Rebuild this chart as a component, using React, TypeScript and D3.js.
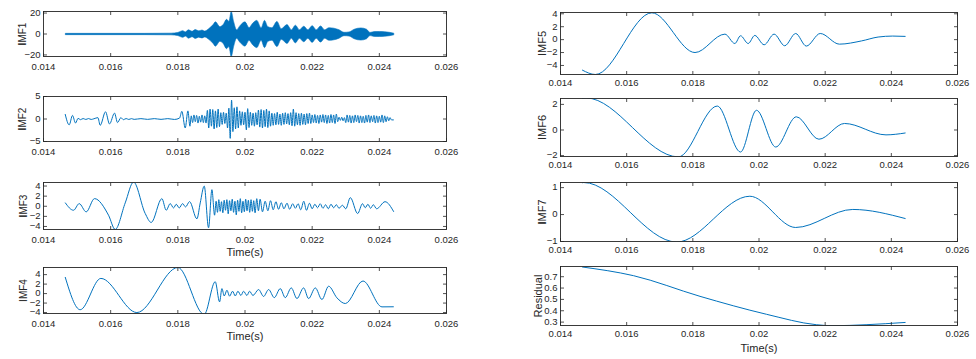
import React from "react";
import * as d3 from "d3";

type Pt = [number, number];

const timeTicks = [0.014, 0.016, 0.018, 0.02, 0.022, 0.024, 0.026];
const timeTickLabels = ["0.014", "0.016", "0.018", "0.02", "0.022", "0.024", "0.026"];

const imf1Ticks = [-20, 0, 20];
const imf2Ticks = [-5, 0, 5];
const imf3Ticks = [-4, -2, 0, 2, 4];
const imf4Ticks = [-4, -2, 0, 2, 4];
const imf5Ticks = [-4, -2, 0, 2, 4];
const imf6Ticks = [-2, 0, 2];
const imf7Ticks = [-1, 0, 1];
const residualTicks = [0.3, 0.4, 0.5, 0.6, 0.7];

// IMF1 oscillates faster than a pixel, so only its envelope (time, amplitude) is read
const imf1Envelope: Pt[] = [
  [0.01465, 0.6], [0.0170, 0.6], [0.0178, 0.8], [0.0180, 1.5], [0.01815, 3.2],
  [0.01822, 2.0], [0.01832, 4.0], [0.01842, 2.6], [0.01852, 4.2], [0.01862, 3.0],
  [0.01872, 3.8], [0.0188, 2.8], [0.0189, 4.5], [0.01905, 9], [0.01912, 11.6], [0.01925, 7],
  [0.01935, 9], [0.01945, 14], [0.01952, 12], [0.01959, 21.5], [0.01966, 12],
  [0.01975, 4], [0.01985, 8], [0.0200, 11.6], [0.02012, 6], [0.02022, 10],
  [0.02035, 13], [0.02048, 6], [0.02058, 13], [0.02068, 7], [0.0208, 6],
  [0.02095, 12], [0.02108, 5], [0.02125, 9], [0.02138, 4], [0.0215, 8.4],
  [0.02162, 4], [0.02175, 7.4], [0.02187, 4], [0.022, 8], [0.02212, 4],
  [0.02225, 7.7], [0.02237, 4], [0.0225, 6], [0.02265, 5.5], [0.0228, 4],
  [0.02295, 1.6], [0.0231, 2], [0.02325, 4.5], [0.02345, 5.8], [0.02362, 4.5],
  [0.02372, 1.5], [0.02385, 2.3], [0.024, 2.4], [0.02415, 2.2], [0.0243, 1.6],
  [0.02443, 0.8],
];

const imf2Head: Pt[] = [
  [0.014645, 1.1], [0.014765, -1.3], [0.014864, 0.8], [0.014953, -0.9], [0.01503, 0.15],
  [0.0151, -0.15], [0.01518, 0.1], [0.01526, -0.1], [0.01534, 0.1], [0.01542, -0.1],
  [0.0155, 0.05], [0.01562, 0.3], [0.015688, -1.4], [0.015847, 1.6], [0.015966, -1.1],
  [0.016115, 1.3], [0.016205, -0.8], [0.016304, 0.3], [0.01638, -0.15], [0.01646, 0.1],
  [0.01654, -0.1], [0.01662, 0.08], [0.0167, -0.08], [0.0169, 0.08], [0.0171, -0.08],
  [0.0173, 0.08], [0.0175, -0.08], [0.0177, 0.08], [0.0179, -0.1], [0.01805, 0.2],
  [0.01812, 1.7], [0.01822, -2.0], [0.0183, 1.8], [0.01836, -1.6],
];
// dense part of IMF2, one extremum every 40 µs from 18.4 ms
const imf2BurstStart = 0.0184;
const imf2BurstStep = 0.00004;
const imf2Burst = [
  0.7, -0.8, 0.9, -0.6, 0.8, -0.9, 0.6, -0.7, 0.9, -0.8, 0.7, -0.9,
  1.9, -2.0, 2.2, -1.6, 2.1, -2.2, 1.8, -1.9, 2.2, -1.7,
  1.4, -1.2, 1.5, -1.0, 1.3,
  -2.0, 2.4, -4.3, 4.2,
  -2.8, 2.5, -2.2, 2.7, -2.0, 1.8,
  -1.4, 1.6, -1.3, 1.5,
  -2.4, 2.3, -1.9,
  1.5, -1.4, 1.3, -1.6, 1.4, -1.3,
  2.0, -1.8, 2.1, -2.0, 1.9, -1.7, 2.2, -1.9, 1.8, -1.6,
  1.3, -1.4, 1.2, -1.3, 1.5, -1.2, 1.1, -1.4, 1.3, -1.2, 1.4, -1.1, 1.2, -1.3, 1.4, -1.5,
  2.2,
  -1.6, 1.4, -1.3, 1.2, -1.4, 1.3, -1.2, 1.1, -1.3, 1.2, -1.0, 1.3,
  -1.0, 0.9, -0.8, 1.0, -0.9, 0.8, -1.0, 0.9, -0.7, 1.0, -0.8, 0.9, -1.0, 0.8, -0.9, 1.0, -0.8, 0.9,
  -1.0, 1.1, -0.6,
  0.4, -0.3, 0.4, -0.4, 0.3,
  -0.8, 0.9, -0.7, 0.8, -0.9, 0.7, -0.8, 0.9, -0.6, 0.8,
  -0.9, 0.7, -0.8, 0.6, -0.9, 0.8, -0.7, 0.9, -0.8, 0.7,
  -0.6, 0.8, -0.9, 0.7, -0.8, 0.6, -0.7, 0.9, -0.8, 0.7,
  -0.6, 0.5, -0.4, 0.3, -0.2,
];
const imf2Tail: Pt[] = [[0.02443, -0.2]];

const imf3: Pt[] = [
  [0.014645, 0.72], [0.014894, -0.79], [0.015063, 0.52], [0.015271, -1.11], [0.015519, 1.51],
  [0.015936, -1.77], [0.016135, -4.59], [0.016433, 0.66], [0.016681, 4.79], [0.017029, -1.44],
  [0.017207, -3.21], [0.017525, 1.51], [0.017654, -0.79], [0.017773, 0.52], [0.017873, -0.33],
  [0.017952, 0.39], [0.018042, -0.33], [0.018141, 0.52], [0.01823, -0.13], [0.018349, 0.92],
  [0.018568, -2.49], [0.018667, 0.66], [0.018786, 4.0], [0.018915, -4.26], [0.019015, 3.28],
  [0.019094, -1.77],
  [0.01914, 1.0], [0.01918, -1.2], [0.01922, 1.3], [0.01926, -1.0], [0.0193, 0.9],
  [0.01934, -1.3], [0.01938, 1.2], [0.01942, -0.8], [0.01946, 1.3], [0.0195, -1.5],
  [0.01954, 1.1], [0.01958, -0.9], [0.01962, 1.4], [0.01966, -1.2], [0.0197, 1.0],
  [0.01974, -1.7], [0.01978, 1.2], [0.01982, -1.0], [0.01986, 1.5], [0.0199, -1.3],
  [0.01994, 1.0], [0.01998, -1.1], [0.02002, 1.4], [0.02006, -0.9], [0.0201, 1.2],
  [0.02014, -1.2], [0.02018, 1.3], [0.02022, -1.0], [0.02026, 1.1], [0.0203, -1.3],
  [0.02035, 1.5], [0.0204, -0.9], [0.02045, 1.4],
  [0.02052, -1.1], [0.0206, 1.0], [0.02068, -0.9], [0.02076, 1.1], [0.02084, -0.7],
  [0.02092, 0.9], [0.021, -0.6], [0.02108, 0.7], [0.02116, -0.5], [0.02125, 0.6],
  [0.02133, -0.6], [0.02142, 0.5], [0.0215, -0.4], [0.02158, 0.5], [0.02166, -0.7],
  [0.02175, 1.0], [0.02183, -0.8], [0.02192, 0.6], [0.022, -0.5],
  [0.02208, 0.4], [0.02216, -0.3], [0.02224, 0.5], [0.02232, -0.4], [0.0224, 0.3],
  [0.02248, -0.5], [0.02256, 0.4], [0.02264, -0.3], [0.02272, 0.3], [0.0228, -0.4],
  [0.0229, 0.2], [0.023, -0.5], [0.023136, 1.7], [0.023354, -1.44],
  [0.0235, 0.5], [0.02358, -0.3], [0.02366, 0.4], [0.02374, -0.4], [0.02382, 0.3],
  [0.02392, -0.5], [0.02417, 0.9], [0.02443, -1.1],
];

const imf4: Pt[] = [
  [0.014645, 3.5], [0.015092, -3.4], [0.015708, 3.2], [0.01678, -4.0], [0.018002, 5.5],
  [0.018786, -4.4], [0.019114, 2.5], [0.019243, -1.75], [0.019313, 1.05], [0.019382, -0.5],
  [0.019462, 0.7], [0.019541, -0.55], [0.01963, 0.5], [0.01971, -0.5], [0.019789, 0.5],
  [0.019879, -0.4], [0.019958, 0.5], [0.020057, -0.4], [0.020137, 0.5], [0.020236, -0.4],
  [0.020405, 0.85], [0.020554, -0.6], [0.020703, 0.85], [0.020872, -0.85], [0.02105, 1.05],
  [0.021199, -0.85], [0.021378, 1.2], [0.021547, -1.05], [0.021745, 1.2], [0.021894, -1.05],
  [0.022093, 1.2], [0.022291, -1.25], [0.02249, 1.55], [0.022738, -0.9], [0.022987, -2.1],
  [0.023513, 2.65], [0.024079, -2.8], [0.02443, -2.78],
];

const imf5: Pt[] = [
  [0.014653, -4.7], [0.015054, -5.4], [0.016761, 4.15], [0.018066, -2.0], [0.01897, 0.85],
  [0.019271, -0.6], [0.019442, 0.6], [0.019673, -0.6], [0.019873, 0.65], [0.020155, -0.8],
  [0.020456, 0.85], [0.020777, -0.95], [0.021108, 0.95], [0.02143, -1.0], [0.021851, 0.95],
  [0.02243, -0.7], [0.0231, -0.2], [0.0236, 0.4], [0.02404, 0.55], [0.02443, 0.5],
];

const imf6: Pt[] = [
  [0.014653, 2.47], [0.01478, 2.5], [0.017564, -2.1], [0.018739, 1.87], [0.019442, -1.72],
  [0.019924, 1.54], [0.020506, -1.33], [0.021128, 1.03], [0.021811, -0.72], [0.022584, 0.51],
  [0.023839, -0.38], [0.02443, -0.23],
];

const imf7: Pt[] = [
  [0.014653, 1.18], [0.0147, 1.19], [0.017514, -1.02], [0.019723, 0.68], [0.021108, -0.48],
  [0.022835, 0.19], [0.02443, -0.15],
];

const residual: Pt[] = [
  [0.014653, 0.786], [0.016209, 0.709], [0.018217, 0.527], [0.020225, 0.369], [0.021731, 0.277],
  [0.022233, 0.268], [0.023237, 0.277], [0.02443, 0.297],
];

const imf2: Pt[] = [
  ...imf2Head,
  ...imf2Burst.map((v, i): Pt => [imf2BurstStart + i * imf2BurstStep, v]),
  ...imf2Tail,
];

const series: Record<string, Pt[]> = { imf2, imf3, imf4, imf5, imf6, imf7, residual };

const layout = [
  { key: "imf1", label: "IMF1", heavyI: true, col: 0, top: 11.5, bottom: 56.5, ylim: [-21.5, 21.5], ticks: imf1Ticks, labelX: 26, time: false },
  { key: "imf2", label: "IMF2", heavyI: true, col: 0, top: 96.5, bottom: 141.5, ylim: [-5, 5], ticks: imf2Ticks, labelX: 26, time: false },
  { key: "imf3", label: "IMF3", heavyI: true, col: 0, top: 182.5, bottom: 229.5, ylim: [-4.6, 4.7], ticks: imf3Ticks, labelX: 27, time: true },
  { key: "imf4", label: "IMF4", heavyI: false, col: 0, top: 267.5, bottom: 313.5, ylim: [-4.2, 5.5], ticks: imf4Ticks, labelX: 27, time: true },
  { key: "imf5", label: "IMF5", heavyI: false, col: 1, top: 12.5, bottom: 74.5, ylim: [-5.4, 4.2], ticks: imf5Ticks, labelX: 546, time: false },
  { key: "imf6", label: "IMF6", heavyI: false, col: 1, top: 98.5, bottom: 156.5, ylim: [-2.07, 2.46], ticks: imf6Ticks, labelX: 546, time: false },
  { key: "imf7", label: "IMF7", heavyI: true, col: 1, top: 182.5, bottom: 241.5, ylim: [-1.0, 1.19], ticks: imf7Ticks, labelX: 546, time: false },
  { key: "residual", label: "Residual", heavyI: false, col: 1, top: 266.5, bottom: 325.5, ylim: [0.27, 0.79], ticks: residualTicks, labelX: 542, time: true },
];

const ink = "#262626";
const blue = "#0072BD";
const fmt = (v: number) => (v < 0 ? "\u2212" + String(-v) : String(v));

function Panel({ p }: { p: (typeof layout)[number] }) {
  const xr = p.col === 0 ? [43.5, 446.5] : [560.5, 957.5];
  const x = d3.scaleLinear().domain([0.014, 0.026]).range(xr);
  const y = d3.scaleLinear().domain(p.ylim).range([p.bottom, p.top]);
  const clipId = `clip-${p.key}`;
  const tl = 3.5;

  let d: string | null;
  if (p.key === "imf1") {
    d = d3
      .area<Pt>()
      .x((e) => x(e[0]))
      .y0((e) => y(-e[1]))
      .y1((e) => y(e[1]))
      .curve(d3.curveMonotoneX)(imf1Envelope);
  } else {
    d = d3
      .line<Pt>()
      .x((e) => x(e[0]))
      .y((e) => y(e[1]))
      .curve(d3.curveMonotoneX)(series[p.key]);
  }

  const labelDy = p.col === 0 ? 13.5 : 11.5;
  const midY = (p.top + p.bottom) / 2;

  return (
    <g>
      <defs>
        <clipPath id={clipId}>
          <rect x={xr[0]} y={p.top} width={xr[1] - xr[0]} height={p.bottom - p.top} />
        </clipPath>
      </defs>
      <g clipPath={`url(#${clipId})`}>
        {p.key === "imf1" ? (
          <path d={d ?? ""} fill={blue} stroke={blue} strokeWidth={0.6} />
        ) : (
          <path d={d ?? ""} fill="none" stroke={blue} strokeWidth={1} strokeLinejoin="round" />
        )}
      </g>
      {/* ticks, inward on all four sides */}
      {timeTicks.map((t) => (
        <g key={t}>
          <line x1={x(t)} x2={x(t)} y1={p.bottom} y2={p.bottom - tl} stroke={ink} strokeWidth={0.8} />
          <line x1={x(t)} x2={x(t)} y1={p.top} y2={p.top + tl} stroke={ink} strokeWidth={0.8} />
        </g>
      ))}
      {p.ticks.map((v) => (
        <g key={v}>
          <line x1={xr[0]} x2={xr[0] + tl} y1={y(v)} y2={y(v)} stroke={ink} strokeWidth={0.8} />
          <line x1={xr[1]} x2={xr[1] - tl} y1={y(v)} y2={y(v)} stroke={ink} strokeWidth={0.8} />
          <text x={xr[0] - 3} y={y(v)} dy="0.3em" textAnchor="end" fontSize={9.5} fill={ink}>
            {fmt(v)}
          </text>
        </g>
      ))}
      <rect x={xr[0]} y={p.top} width={xr[1] - xr[0]} height={p.bottom - p.top} fill="none" stroke={ink} strokeWidth={0.9} />
      {timeTicks.map((t, i) => (
        <text key={t} x={x(t)} y={p.bottom + labelDy} textAnchor="middle" fontSize={9.5} fill={ink}>
          {timeTickLabels[i]}
        </text>
      ))}
      <text
        transform={`translate(${p.labelX},${midY}) rotate(-90)`}
        textAnchor="middle"
        fontSize={p.col === 0 ? 10 : 11}
        fill={ink}
      >
        {p.heavyI ? (
          <>
            <tspan fontWeight="bold">I</tspan>
            {p.label.slice(1)}
          </>
        ) : (
          p.label
        )}
      </text>
      {p.time && (
        <text x={(xr[0] + xr[1]) / 2} y={p.bottom + 26} textAnchor="middle" fontSize={11} fill={ink}>
          Time(s)
        </text>
      )}
    </g>
  );
}

export default function App() {
  return (
    <svg
      width={976}
      height={359}
      style={{ position: "absolute", left: 0, top: 0, background: "#fff" }}
      fontFamily="'Liberation Sans', Arial, Helvetica, sans-serif"
    >
      {layout.map((p) => (
        <Panel key={p.key} p={p} />
      ))}
    </svg>
  );
}
